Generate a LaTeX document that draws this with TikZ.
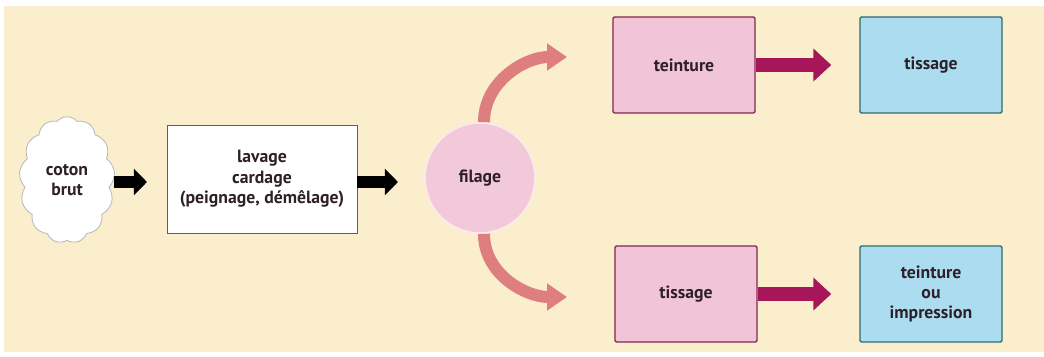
\documentclass[tikz,border=0pt]{standalone}
\usepackage{fontspec}
\setmainfont{PT Sans}
\usepackage{tikz}
\usetikzlibrary{shapes.geometric, shapes.symbols, arrows.meta, positioning, calc}
\definecolor{paperbg}{RGB}{251,238,205}
\definecolor{cloudline}{RGB}{185,185,185}
\definecolor{boxline}{RGB}{95,95,95}
\definecolor{spinfill}{RGB}{242,201,216}
\definecolor{spinline}{RGB}{252,232,238}
\definecolor{salmon}{RGB}{222,126,126}
\definecolor{pinkfill}{RGB}{242,196,216}
\definecolor{pinkline}{RGB}{128,42,80}
\definecolor{magentaarrow}{RGB}{166,22,88}
\definecolor{bluefill}{RGB}{172,220,240}
\definecolor{blueline}{RGB}{48,108,114}
\definecolor{labeltext}{RGB}{45,32,40}
\tikzset{
    stage/.style={
        rectangle,
        draw=boxline,
        line width=0.6pt,
        fill=white,
        text centered,
        align=center,
        text=labeltext,
        font=\fontsize{12.6}{14.5}\selectfont\bfseries
    },
    rawnode/.style={
        stage,
        cloud,
        cloud puffs=13,
        cloud puff arc=100,
        aspect=0.7,
        draw=cloudline,
        inner sep=0.22cm
    },
    washbox/.style={
        stage,
        minimum width=4.75cm,
        minimum height=2.7cm
    },
    spinnode/.style={
        stage,
        circle,
        draw=spinline,
        line width=1.2pt,
        fill=spinfill,
        minimum size=2.75cm
    },
    pinkbox/.style={
        stage,
        draw=pinkline,
        line width=1pt,
        fill=pinkfill,
        rounded corners=1pt,
        minimum width=3.55cm,
        minimum height=2.4cm
    },
    bluebox/.style={
        pinkbox,
        draw=blueline,
        fill=bluefill
    },
    blackflow/.style={
        draw=black,
        line width=0.3cm,
        -{Triangle[length=0.33cm,width=0.65cm]}
    },
    splitflow/.style={
        draw=salmon,
        line width=0.3cm,
        -{Triangle[length=0.5cm,width=0.65cm]}
    },
    dyeflow/.style={
        draw=magentaarrow,
        line width=0.36cm,
        -{Triangle[length=0.45cm,width=0.8cm]}
    }
}
\begin{document}
\begin{tikzpicture}[x=0.025cm, y=-0.025cm]

% Page
\useasboundingbox (0,0) rectangle (1044,356);
\fill[white] (0,0) rectangle (1044,356);
\fill[paperbg] (4,6) rectangle (1044,352);

% Raw cotton
\node[rawnode] (raw) at (67,180) {coton\\brut};

% Washing and carding
\node[washbox] (wash) at (262,179) {lavage\\cardage\\(peignage, démêlage)};

% Spinning
\node[spinnode] (spin) at (480,178) {filage};

% Upper branch
\node[pinkbox] (dyeA) at (684,65) {teinture};
\node[bluebox] (weaveA) at (931,65) {tissage};

% Lower branch
\node[pinkbox] (weaveB) at (686,294) {tissage};
\node[bluebox] (dyeB) at (931,294) {teinture\\ou\\impression};

% Arrow ends
\coordinate (upend) at (567,57);
\coordinate (downend) at (567,297);

% Connections
\draw[blackflow] (raw.east |- 0,182) -- (147,182);
\draw[blackflow] (wash.east |- 0,182) -- (398,182);
\draw[splitflow] ([xshift=0.1cm]spin.north) to[out=90, in=180] (upend);
\draw[splitflow] ([xshift=0.1cm]spin.south) to[out=-90, in=180] (downend);
\draw[dyeflow] (dyeA.east) -- ([xshift=-0.7cm]weaveA.west);
\draw[dyeflow] (weaveB.east) -- ([xshift=-0.7cm]dyeB.west);

\end{tikzpicture}
\end{document}
